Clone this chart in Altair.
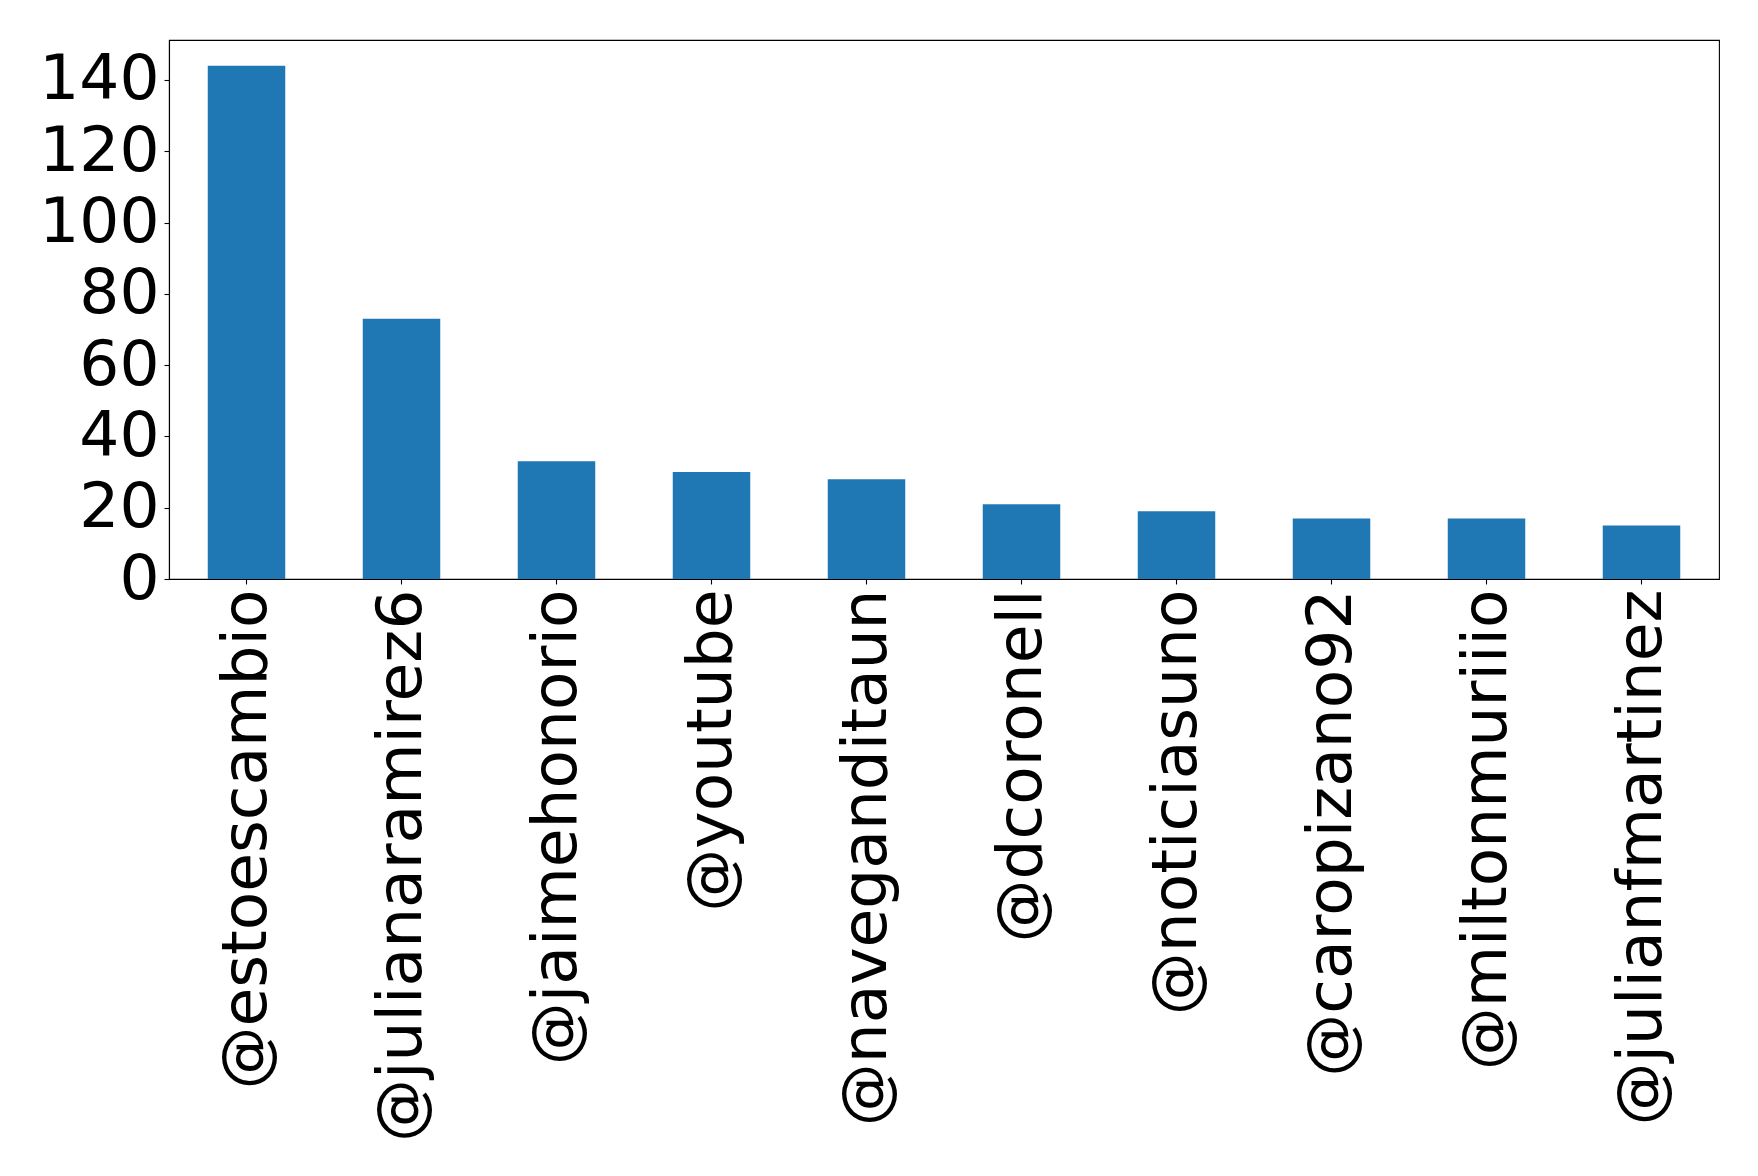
import altair as alt
import pandas as pd

users = ["@estoescambio", "@julianaramirez6", "@jaimehonorio", "@youtube",
         "@naveganditaun", "@dcoronell", "@noticiasuno", "@caropizano92",
         "@miltonmuriiio", "@julianfmartinez"]
counts = [144, 73, 33, 30, 28, 21, 19, 17, 17, 15]
y_ticks = [0, 20, 40, 60, 80, 100, 120, 140]

df = pd.DataFrame({"user": users, "count": counts})

FONT = "DejaVu Sans"
FS = 63

chart = alt.Chart(df).mark_bar(color="#1f77b4").encode(
    x=alt.X("user:N", sort=users,
            scale=alt.Scale(paddingInner=0.5, paddingOuter=0.25),
            axis=alt.Axis(title=None, labelAngle=-90, labelAlign="right",
                          labelBaseline="middle", labelLimit=0,
                          labelOverlap=False)),
    y=alt.Y("count:Q", scale=alt.Scale(domain=[0, 151.2], nice=False, zero=True),
            axis=alt.Axis(title=None, values=y_ticks, grid=False,
                          labelOverlap=False, labelFlush=False)),
).properties(
    width=1550, height=539,
    autosize=alt.AutoSizeParams(type="none"),
    padding={"left": 161, "top": 32, "right": 31, "bottom": 589},
).configure_axis(
    labelFont=FONT, labelFontSize=FS, labelColor="black",
    tickColor="black", tickSize=5, tickWidth=1.1, labelPadding=5,
    domainColor="black", domainWidth=1.1,
).configure_view(
    stroke="black", strokeWidth=1.1
)

chart.save("out.html", embed_options={"renderer": "svg", "actions": False})
